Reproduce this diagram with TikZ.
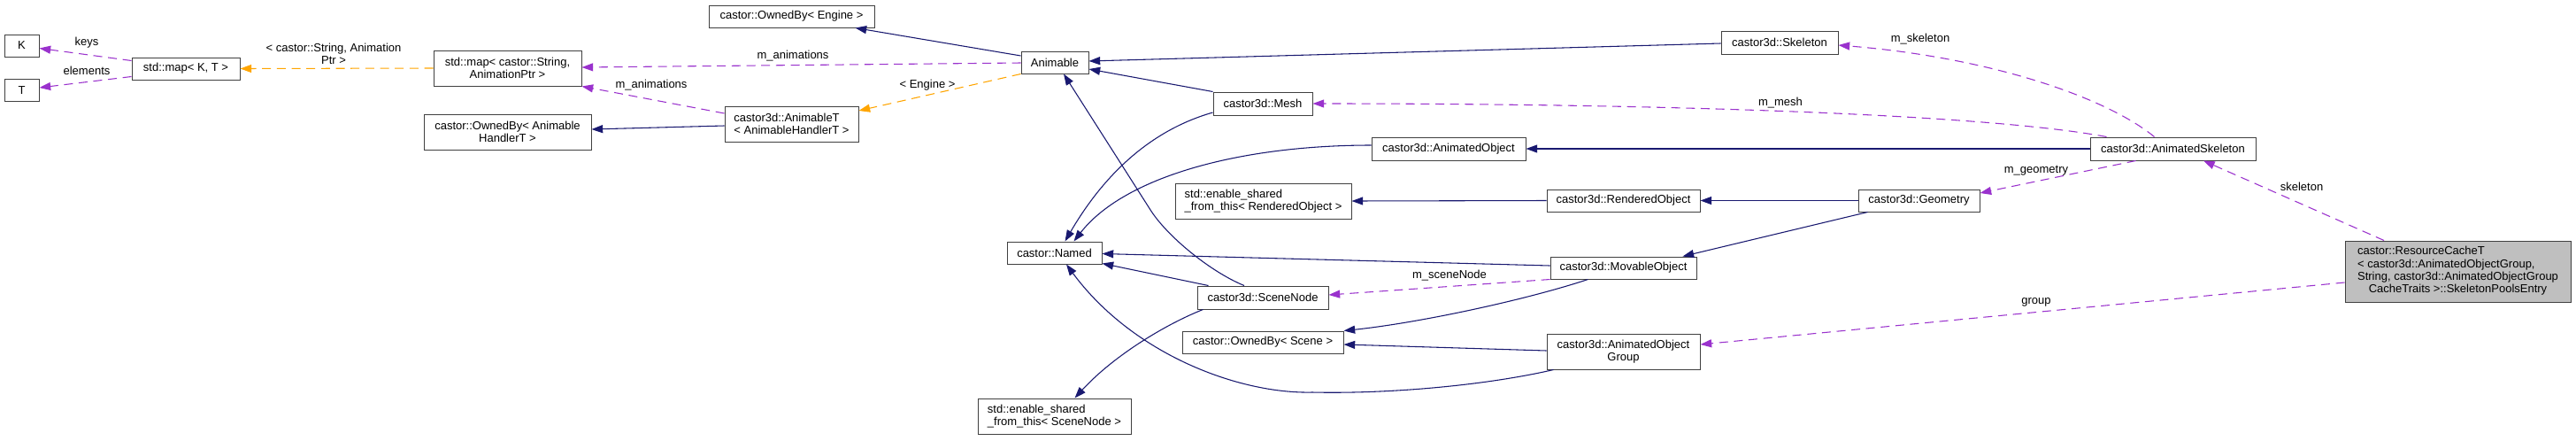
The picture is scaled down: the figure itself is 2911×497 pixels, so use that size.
\documentclass[tikz,border=0pt]{standalone}
\usepackage{fontspec}
\setmainfont{Liberation Sans}
\usetikzlibrary{arrows.meta,calc}
\definecolor{inhblue}{HTML}{191970}
\definecolor{usepurple}{HTML}{9A32CD}
\definecolor{tmplorange}{HTML}{FFA500}
\definecolor{boxedge}{HTML}{404040}
\definecolor{targetfill}{HTML}{BFBFBF}
\newcommand\Bx[7][]{\node[box,#1,minimum width={(#5-#3)*0.75pt},minimum height={(#6-#4)*0.75pt}] (#2) at ({(#3+#5)/2},{(#4+#6)/2}) {#7};}
\begin{document}
\begin{tikzpicture}[x=0.75pt,y=-0.75pt,
  font=\fontsize{9.75pt}{10.7pt}\selectfont,
  box/.style={draw=boxedge,line width=0.75pt,fill=white,inner sep=0pt,rectangle,align=center},
  lbl/.style={inner sep=0pt,align=center},
  tipend/.style={-{Triangle[length=9.5pt,width=6.75pt]}},
  inh/.style={tipend,draw=inhblue,line width=0.8pt},
  dep/.style={tipend,draw=usepurple,line width=0.8pt,dash pattern=on 7.5pt off 5pt},
  tpl/.style={tipend,draw=tmplorange,line width=0.8pt,dash pattern=on 7.5pt off 5pt}]
\path[fill=white,use as bounding box] (0,0) rectangle (2911,497);

% nodes
\Bx{K}{5}{39}{44}{64}{K}
\Bx{T}{5}{89.5}{44}{114.5}{T}
\Bx{mapKT}{149}{65}{271}{90}{std::map< K, T >}
\Bx{mapStr}{490}{57}{657}{97}{std::map< castor::String,\\AnimationPtr >}
\Bx{ownEngine}{801}{6}{988}{31}{castor::OwnedBy< Engine >}
\Bx{ownAH}{479}{129}{668}{169}{castor::OwnedBy< Animable\\HandlerT >}
\Bx[align=left]{animT}{819}{120}{970}{160}{castor3d::AnimableT\\< AnimableHandlerT >}
\Bx{animable}{1154}{58}{1230}{83}{Animable}
\Bx{mesh}{1371}{104}{1483}{130}{castor3d::Mesh}
\Bx{skel}{1945}{35}{2077}{61}{castor3d::Skeleton}
\Bx{animObj}{1550}{155}{1724}{181}{castor3d::AnimatedObject}
\Bx{animSkel}{2362}{155}{2549}{181}{castor3d::AnimatedSkeleton}
\Bx[align=left]{esRO}{1328}{207}{1527}{247}{std::enable\_shared\\\_from\_this< RenderedObject >}
\Bx{rendObj}{1748}{214}{1921}{239}{castor3d::RenderedObject}
\Bx{geom}{2100}{214}{2237}{239}{castor3d::Geometry}
\Bx{named}{1138}{273}{1245}{298}{castor::Named}
\Bx{movObj}{1752}{290}{1917}{315}{castor3d::MovableObject}
\Bx{sceneNode}{1353}{323}{1501}{349}{castor3d::SceneNode}
\Bx{ownScene}{1336}{374}{1518}{399}{castor::OwnedBy< Scene >}
\Bx{animGroup}{1748}{377}{1921}{417}{castor3d::AnimatedObject\\Group}
\Bx[align=left]{esSN}{1105}{450}{1278}{490}{std::enable\_shared\\\_from\_this< SceneNode >}
\Bx[fill=targetfill]{target}{2650}{272}{2905}{341}{\begin{tabular}{@{}l@{}}castor::ResourceCacheT\\< castor3d::AnimatedObjectGroup,\\\multicolumn{1}{@{}c@{}}{String, castor3d::AnimatedObjectGroup}\\\multicolumn{1}{@{}c@{}}{CacheTraits >::SkeletonPoolsEntry}\end{tabular}}

% edges
\draw[dep] ($(mapKT.west)+(0,-9)$) -- ($(K.east)+(0,3)$);
\draw[dep] ($(mapKT.west)+(0,9)$) -- ($(T.east)+(0,-3)$);
\draw[tpl] (mapStr.west) -- (mapKT.east);
\draw[dep] ($(animable.west)+(0,0.5)$) -- ($(mapStr.east)+(0,-1)$);
\draw[dep] ($(animT.west)+(0,-12)$) -- (mapStr.south east);
\draw[inh] ($(animT.west)+(0,2)$) -- ($(ownAH.east)+(0,-3)$);
\draw[tpl] (animable.south west) -- ($(animT.east)+(0,-15)$);
\draw[inh] ($(animable.west)+(0,-7.5)$) -- ($(ownEngine.south east)+(-22,0)$);
\draw[inh] ($(skel.west)+(0,1)$) -- ($(animable.east)+(0,-1.5)$);
\draw[inh] (mesh.north west) -- ($(animable.east)+(0,7.5)$);
\draw[inh] ($(sceneNode.north)+(-21,0)$) .. controls (1368,307) and (1319,267) .. (1300,237) -- ($(animable.south)+(10,0)$);
\draw[inh] ($(mesh.west)+(0,10)$) .. controls (1290,150) and (1240,210) .. ($(named.north)+(12,0)$);
\draw[inh] ($(animObj.west)+(0,-4)$) .. controls (1400,164) and (1270,200) .. ($(named.north)+(22,0)$);
\draw[inh] (animSkel.west) -- (animObj.east);
\draw[dep] ($(animSkel.north)+(-21,0)$) .. controls (2380,110) and (2250,65) .. ($(skel.east)+(0,3)$);
\draw[dep] ($(animSkel.north west)+(19,0)$) .. controls (2250,130) and (1900,117) .. (mesh.east);
\draw[dep] ($(animSkel.south)+(-42,0)$) -- ($(geom.east)+(0,-8.5)$);
\draw[inh] (geom.west) -- (rendObj.east);
\draw[inh] (rendObj.west) -- (esRO.east);
\draw[inh] ($(geom.south west)+(11,0)$) -- ($(movObj.north east)+(-16,0)$);
\draw[inh] ($(movObj.west)+(0,-2.5)$) -- ($(named.east)+(0,1)$);
\draw[dep] (movObj.south west) -- ($(sceneNode.east)+(0,-3)$);
\draw[inh] ($(movObj.south)+(-40,0)$) .. controls (1720,340) and (1600,365) .. (ownScene.north east);
\draw[inh] ($(sceneNode.north west)+(13,0)$) -- ($(named.south east)+(0,-1)$);
\draw[inh] ($(sceneNode.south west)+(7,0)$) .. controls (1320,365) and (1260,400) .. ($(esSN.north)+(23,0)$);
\draw[inh] ($(animGroup.south west)+(8,0)$) .. controls (1680,435) and (1570,445) .. (1483,443) .. controls (1400,445) and (1280,400) .. ($(named.south)+(13.5,0)$);
\draw[inh] ($(animGroup.west)+(0,-1)$) -- ($(ownScene.east)+(0,2.5)$);
\draw[dep] ($(target.north)+(-83.5,0)$) -- ($(animSkel.south)+(34.5,0)$);
\draw[dep] ($(target.west)+(0,12.5)$) -- ($(animGroup.east)+(0,-8)$);

% edge labels
\node[lbl] (lkeys) at (98,48) {keys};
\node[lbl] (lelem) at (98,80) {elements};
\node[lbl] (ltmpl) at (377,61) {< castor::String, Animation\\Ptr >};
\node[lbl] (lanimA) at (896,63) {m\_animations};
\node[lbl] (lanimB) at (736,96) {m\_animations};
\node[lbl] (lengine) at (1048,96) {< Engine >};
\node[lbl] (lskel) at (2170,44) {m\_skeleton};
\node[lbl] (lmesh) at (2012,116) {m\_mesh};
\node[lbl] (lgeom) at (2301,193) {m\_geometry};
\node[lbl] (lskeleton) at (2601,211) {skeleton};
\node[lbl] (lscene) at (1638,311) {m\_sceneNode};
\node[lbl] (lgroup) at (2301,341) {group};
\end{tikzpicture}
\end{document}
